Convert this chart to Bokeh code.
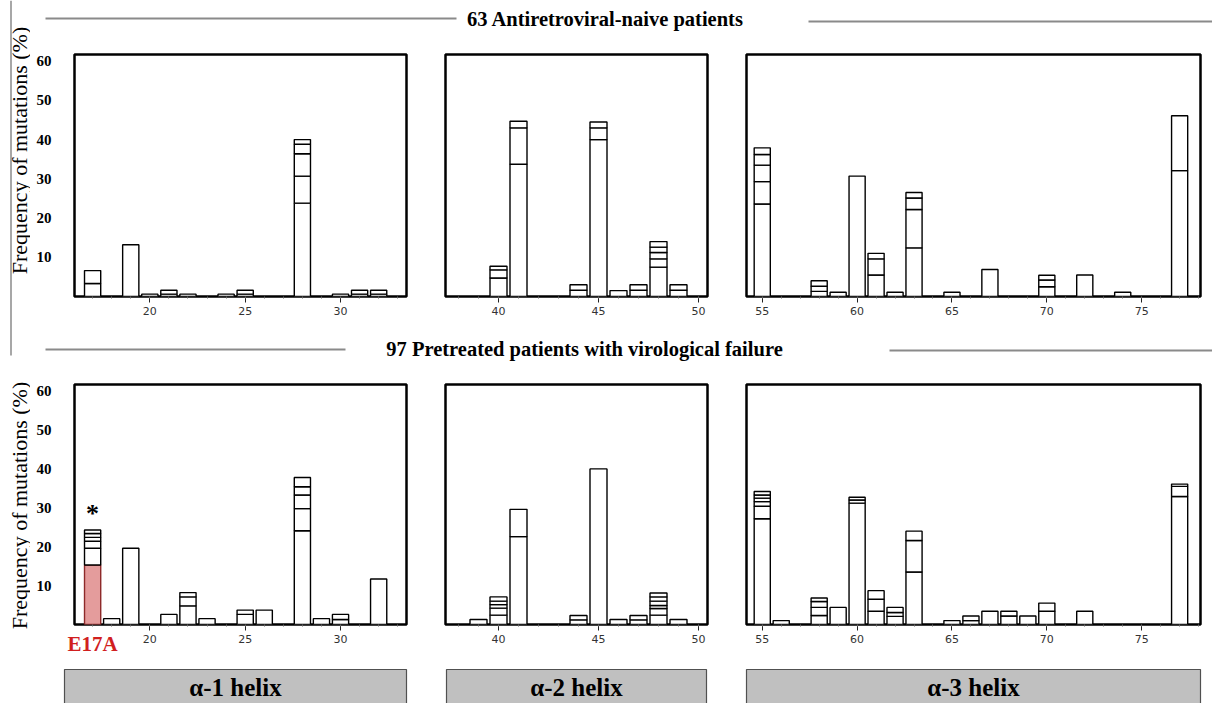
import numpy as np
from math import pi
from bokeh.plotting import figure
from bokeh.layouts import column, row
from bokeh.models import Range1d, FixedTicker, LinearAxis
from bokeh.core.properties import value
from bokeh.embed import file_html
from bokeh.resources import INLINE

# ---------------- data ----------------
# residue positions and stacked mutation frequencies (%) per bar, bottom -> top
naive_h1_pos = [17, 19, 20, 21, 22, 24, 25, 28, 30, 31, 32]
naive_h1_seg = [[3.3, 3.3], [13.2], [0.6], [0.6, 1.0], [0.6], [0.6], [0.6, 1.0],
                [23.8, 6.9, 5.7, 2.4, 1.2], [0.6], [0.6, 1.0], [0.6, 1.0]]
naive_h2_pos = [40, 41, 44, 45, 46, 47, 48, 49]
naive_h2_seg = [[4.7, 2.1, 0.9], [33.7, 9.3, 1.7], [1.6, 1.4], [40.0, 3.0, 1.5], [1.5],
                [1.6, 1.4], [7.5, 2.1, 1.6, 1.4, 1.4], [1.6, 1.4]]
naive_h3_pos = [55, 58, 59, 60, 61, 62, 63, 65, 67, 70, 72, 74, 77]
naive_h3_seg = [[23.6, 5.7, 4.2, 2.7, 1.7], [1.3, 1.3, 1.4], [1.1], [30.7], [5.5, 4.1, 1.4], [1.1],
                [12.4, 9.8, 2.9, 1.4], [1.1], [6.9], [2.5, 1.7, 1.2], [5.5], [1.1], [32.1, 14.0]]
pre_h1_pos = [17, 18, 19, 21, 22, 23, 25, 26, 28, 29, 30, 32]
pre_h1_seg = [[15.3, 4.3, 1.8, 1.0, 1.0, 0.9], [1.5], [19.6], [2.6], [4.8, 2.3, 1.1], [1.5],
              [2.6, 1.1], [3.7], [24.1, 5.7, 3.5, 2.1, 2.4], [1.5], [1.3, 1.3], [11.7]]
pre_h2_pos = [39, 40, 41, 44, 45, 46, 47, 48, 49]
pre_h2_seg = [[1.3], [2.4, 1.8, 0.9, 0.9, 1.1], [22.6, 7.0], [1.2, 1.1], [40.0], [1.3],
              [1.2, 1.1], [2.4, 1.7, 0.8, 1.1, 1.1, 1.0], [1.3]]
pre_h3_pos = [55, 56, 58, 59, 60, 61, 62, 63, 65, 66, 67, 68, 69, 70, 72, 77]
pre_h3_seg = [[27.2, 3.2, 1.2, 0.9, 0.8, 0.9], [1.0], [2.3, 2.1, 1.5, 0.9], [4.4], [31.2, 0.8, 0.7],
              [3.4, 3.1, 2.2], [2.1, 1.0, 1.3], [13.5, 8.1, 2.4], [1.0], [1.0, 1.2], [3.4], [2.2, 1.2],
              [2.2], [3.4, 2.1], [3.4], [32.9, 2.6, 0.6]]

highlight_pos = 17          # E17A: first segment of residue 17 (pretreated)
highlight_label = "E17A"
star_pos = 17

y_ticks = [10, 20, 30, 40, 50, 60]
h1_ticks = [20, 25, 30]
h2_ticks = [40, 45, 50]
h3_ticks = [55, 60, 65, 70, 75]
helix_labels = ["α-1 helix", "α-2 helix", "α-3 helix"]
titles = ["63 Antiretroviral-naive patients", "97 Pretreated patients with virological failure"]
y_label = "Frequency of mutations (%)"

# ---------------- layout constants ----------------
W = 1212
STRIP = 30
YMAX = 61.7
XR = [(16.05, 33.46), (37.35, 50.45), (54.17, 78.1)]
SERIF = "Liberation Serif"


def stack(pos, segs):
    xs, bots, tops, idx = [], [], [], []
    for p, s in zip(pos, segs):
        c = np.concatenate([[0.0], np.cumsum(s)])
        for i in range(len(s)):
            xs.append(p); bots.append(c[i]); tops.append(c[i + 1]); idx.append(i)
    return xs, bots, tops, idx


def panel(pos, segs, xr, ticks, width, height, bl, br, bt, bb, show_y, highlight=None):
    p = figure(width=width, height=height, x_range=Range1d(*xr), y_range=Range1d(0, YMAX),
               output_backend="svg", toolbar_location=None,
               y_axis_location="left" if show_y else None,
               min_border_left=bl, min_border_right=br, min_border_top=bt, min_border_bottom=bb)
    p.grid.visible = False
    p.outline_line_color = "black"
    p.outline_line_width = 2.5
    p.outline_line_alpha = 1.0
    ax = p.xaxis[0]
    ax.ticker = FixedTicker(ticks=ticks, minor_ticks=list(range(int(np.ceil(xr[0])), int(xr[1]) + 1)))
    ax.axis_line_color = None
    ax.major_tick_in = 0
    ax.major_tick_out = 6
    ax.major_tick_line_color = "#222222"
    ax.minor_tick_in = 0
    ax.minor_tick_out = 2
    ax.minor_tick_line_color = "#666666"
    ax.major_label_standoff = 4
    ax.major_label_text_font = "DejaVu Sans"
    ax.major_label_text_font_size = "11px"
    ax.major_label_text_color = "#333333"
    if show_y:
        ay = p.yaxis[0]
        ay.ticker = FixedTicker(ticks=y_ticks)
        ay.axis_line_color = None
        ay.major_tick_line_color = None
        ay.minor_tick_line_color = None
        ay.major_tick_out = 0
        ay.major_tick_in = 0
        ay.minor_tick_out = 0
        ay.major_label_standoff = 23
        ay.major_label_text_font = SERIF
        ay.major_label_text_font_style = "bold"
        ay.major_label_text_font_size = "15px"
        ay.major_label_text_color = "black"
    xs, bots, tops, idx = stack(pos, segs)
    fill = ["white"] * len(xs)
    line = ["black"] * len(xs)
    if highlight is not None:
        for k in range(len(xs)):
            if xs[k] == highlight and idx[k] == 0:
                fill[k] = "#e49c9c"
                line[k] = "#8e2a2a"
    p.vbar(x=xs, bottom=bots, top=tops, width=0.85, fill_color=fill, line_color=line, line_width=1.4)
    return p


def deco_fig(h, x0, x1):
    p = figure(width=x1 - x0, height=h, x_range=Range1d(x0, x1), y_range=Range1d(h, 0),
               output_backend="svg", toolbar_location=None, min_border=0,
               x_axis_location=None, y_axis_location=None)
    p.grid.visible = False
    p.outline_line_color = None
    return p


def header(h, text, tx, ty, lines):
    p = deco_fig(h, STRIP, W)
    p.segment(x0=[l[0] for l in lines], x1=[l[1] for l in lines], y0=[l[2] for l in lines],
              y1=[l[2] for l in lines], line_color="#8a8a8a", line_width=2)
    p.text(x=[tx], y=[ty], text=[text], text_font=value(SERIF), text_font_style="bold",
           text_font_size="20.5px", text_align="center", text_baseline="middle", text_color="black")
    return p


# left strip (page y 0..660): vertical rule and the two rotated y-axis titles
strip = deco_fig(660, 0, STRIP)
strip.segment(x0=[10.5], x1=[10.5], y0=[0], y1=[355], line_color="#8a8a8a", line_width=1.5)
strip.text(x=[18.5, 18.5], y=[150, 505], text=[y_label, y_label], angle=pi / 2,
           text_font=value(SERIF), text_font_size="22px", text_align="center",
           text_baseline="middle", text_color="black")

# header 1
h1 = header(40, titles[0], 605, 18, [(45, 456, 18), (808, 1212, 21)])

# row 1
p11 = panel(naive_h1_pos, naive_h1_seg, XR[0], h1_ticks, 378, 290, 44, 2, 14, 34, True)
p12 = panel(naive_h2_pos, naive_h2_seg, XR[1], h2_ticks, 301, 290, 37, 2, 14, 34, False)
p13 = panel(naive_h3_pos, naive_h3_seg, XR[2], h3_ticks, 503, 290, 37, 12, 14, 34, False)

# header 2
h2 = header(38, titles[1], 584, 18, [(45, 345, 19), (889, 1212, 20)])

# row 2
p21 = panel(pre_h1_pos, pre_h1_seg, XR[0], h1_ticks, 378, 292, 44, 2, 16, 34, True, highlight=highlight_pos)
p22 = panel(pre_h2_pos, pre_h2_seg, XR[1], h2_ticks, 301, 292, 37, 2, 16, 34, False)
p23 = panel(pre_h3_pos, pre_h3_seg, XR[2], h3_ticks, 503, 292, 37, 12, 14, 36, False)

star_top = float(np.sum(pre_h1_seg[pre_h1_pos.index(star_pos)]))
p21.text(x=[star_pos], y=[star_top + 4.3], text=["*"], text_font=value(SERIF), text_font_style="bold",
         text_font_size="26px", text_align="center", text_baseline="middle", text_color="black")

# E17A label as an extra bottom axis with a single tick at the highlighted residue
ax_e = LinearAxis(ticker=FixedTicker(ticks=[highlight_pos]),
                  major_label_overrides={highlight_pos: highlight_label},
                  axis_line_color=None, major_tick_line_color=None, minor_tick_line_color=None,
                  major_tick_in=0, major_tick_out=0, minor_tick_in=0, minor_tick_out=0,
                  major_label_standoff=-14, major_label_text_font=SERIF,
                  major_label_text_font_style="bold", major_label_text_font_size="21px",
                  major_label_text_color="#d11f1f")
p21.add_layout(ax_e, "below")

# helix boxes
hx = deco_fig(43, 0, W)
box_l = [64, 446, 746]
box_r = [406, 706, 1200]
hx.quad(left=box_l, right=box_r, top=[9] * 3, bottom=[50] * 3, fill_color="#c0c0c0",
        line_color="#505050", line_width=1.2)
hx.text(x=[(a + b) / 2 for a, b in zip(box_l, box_r)], y=[27] * 3, text=helix_labels,
        text_font=value(SERIF), text_font_style="bold", text_font_size="25px",
        text_align="center", text_baseline="middle", text_color="black")

right = column(h1, row(p11, p12, p13, spacing=0), h2, row(p21, p22, p23, spacing=0), spacing=0)
layout = column(row(strip, right, spacing=0), hx, spacing=0)

open("out.html", "w").write(file_html(layout, INLINE))
